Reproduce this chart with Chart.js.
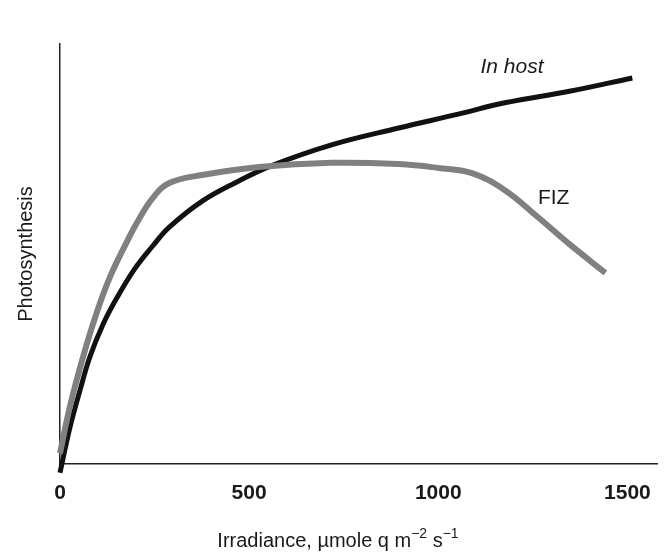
<!DOCTYPE html>
<html>
<head>
<meta charset="utf-8">
<script src="https://cdn.jsdelivr.net/npm/chart.js@4.4.0/dist/chart.umd.min.js"></script>
<style>
  html, body { margin: 0; padding: 0; background: #fff; }
  #wrap { width: 668px; height: 552px; }
</style>
</head>
<body>
<div id="wrap"><canvas id="chart"></canvas></div>
<script>
// irradiance ticks shown on the x axis
const xTicks = [0, 500, 1000, 1500];

// "In host" curve (black)
const hostX = [0, 26, 53, 79, 113, 150, 197, 245, 289, 376, 466, 558, 718, 895, 1053, 1176, 1350, 1513];
const hostY = [-2.1, 8.6, 17.6, 25.5, 33.1, 39.5, 46.4, 51.9, 56.4, 62.6, 67.1, 71.0, 76.0, 80.0, 83.3, 86.0, 88.8, 91.9];

// FIZ curve (grey)
const fizX = [0, 26, 61, 97, 132, 179, 203, 245, 289, 376, 526, 718, 895, 1000, 1087, 1176, 1263, 1350, 1442];
const fizY = [2.6, 13.6, 25.5, 36.0, 44.5, 53.3, 57.4, 63.3, 66.9, 68.8, 70.7, 71.7, 71.4, 70.5, 69.3, 65.2, 58.8, 52.1, 45.5];

const FONT = '"Liberation Sans", Arial, Helvetica, sans-serif';
const INK = '#1a1a1a';

const toPoints = (xs, ys) => xs.map((x, i) => ({x: x, y: ys[i]}));

const labelPlugin = {
  id: 'labels',
  afterDraw(chart) {
    const ctx = chart.ctx;
    const xs = chart.scales.x, ys = chart.scales.y;
    ctx.save();
    ctx.fillStyle = INK;
    ctx.textBaseline = 'alphabetic';
    ctx.textAlign = 'center';

    // curve labels
    ctx.font = 'italic 21px ' + FONT;
    ctx.fillText('In host', xs.getPixelForValue(1195), ys.getPixelForValue(93));
    ctx.font = '21px ' + FONT;
    ctx.fillText('FIZ', xs.getPixelForValue(1305), ys.getPixelForValue(62));

    // x axis title with superscripts
    const parts = [
      ['Irradiance, \u00b5mole q m', 20, 0],
      ['\u22122', 14, -9],
      [' s', 20, 0],
      ['\u22121', 14, -9]
    ];
    let total = 0;
    parts.forEach(p => { ctx.font = p[1] + 'px ' + FONT; total += ctx.measureText(p[0]).width; });
    let x = 338 - total / 2;
    const base = 547;
    ctx.textAlign = 'left';
    parts.forEach(p => {
      ctx.font = p[1] + 'px ' + FONT;
      ctx.fillText(p[0], x, base + p[2]);
      x += ctx.measureText(p[0]).width;
    });
    ctx.restore();
  }
};

new Chart(document.getElementById('chart'), {
  type: 'line',
  data: {
    datasets: [
      {
        label: 'FIZ',
        data: toPoints(fizX, fizY),
        borderColor: '#808080',
        borderWidth: 6,
        pointRadius: 0,
        tension: 0.4,
        clip: false,
        fill: false
      },
      {
        label: 'In host',
        data: toPoints(hostX, hostY),
        borderColor: '#111111',
        borderWidth: 5,
        pointRadius: 0,
        tension: 0.4,
        clip: false,
        fill: false
      }
    ]
  },
  options: {
    responsive: true,
    maintainAspectRatio: false,
    animation: false,
    layout: { padding: { top: 44, right: 5, left: 0, bottom: 0 } },
    plugins: { legend: { display: false }, tooltip: { enabled: false } },
    scales: {
      x: {
        type: 'linear',
        min: 0,
        max: 1580,
        afterBuildTicks: axis => { axis.ticks = xTicks.map(v => ({value: v})); },
        afterFit: scale => { scale.height = 88; },
        grid: { display: false, drawTicks: false },
        border: { display: true, color: '#222', width: 1.5 },
        ticks: {
          padding: 17,
          color: INK,
          maxRotation: 0,
          callback: v => String(v),
          font: { family: FONT, size: 21, weight: 'bold' }
        }
      },
      y: {
        type: 'linear',
        min: 0,
        max: 100,
        afterFit: scale => { scale.width = 60; },
        grid: { display: false, drawTicks: false },
        border: { display: true, color: '#222', width: 1.5 },
        ticks: { display: false },
        title: {
          display: true,
          text: 'Photosynthesis',
          color: INK,
          font: { family: FONT, size: 20 },
          padding: { top: 14, bottom: 0 }
        }
      }
    }
  },
  plugins: [labelPlugin]
});
</script>
</body>
</html>
